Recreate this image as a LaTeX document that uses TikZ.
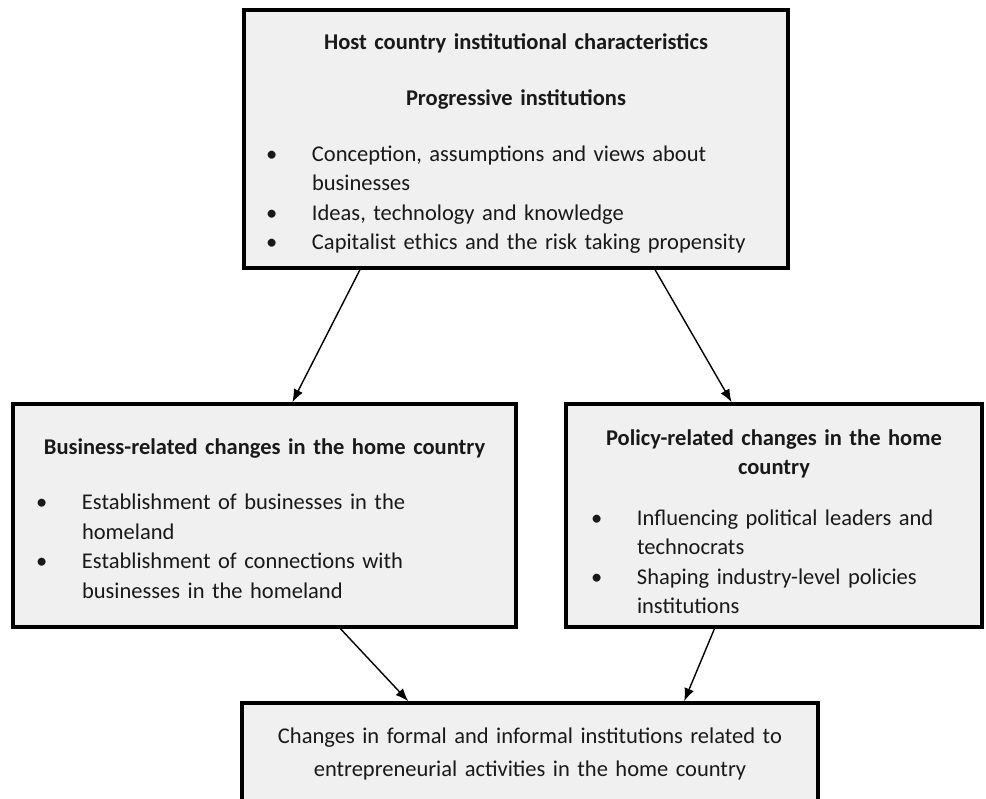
\documentclass[tikz,border=0pt]{standalone}
\usepackage{fontspec}
\setmainfont{Carlito}
\usetikzlibrary{arrows.meta,calc,positioning}
\definecolor{ink}{RGB}{25,25,25}
\definecolor{boxfill}{RGB}{240,240,240}
\tikzset{
  every picture/.style={x=1pt, y=1pt, line cap=round, line join=round,
    >={Latex[length=13pt,width=10pt]}},
  every node/.style={font=\fontsize{22.5}{29.5}\selectfont, text=ink},
  % Kästen
  panel/.style={draw=black, fill=boxfill, line width=3.5pt, line join=miter,
    inner xsep=#1, inner ysep=0pt, align=left},
  panel/.default=22pt,
  % Pfeile
  link/.style={->, line width=1.4pt, black},
}
\newcommand{\topgap}[1]{\par\vspace*{#1}}
\newcommand{\hd}[1]{\par{\noindent\centering\bfseries #1\par}}
\newcommand{\bul}[1]{\par\noindent\hangindent=46pt\hangafter=1\makebox[46pt][l]{\textbullet}#1\par}

\begin{document}
\begin{tikzpicture}
  \useasboundingbox (0,0) rectangle (986,-799);
  % Herkunft: Institutionen im Gastland
  \node[panel=22pt, text width=500pt, minimum height=258pt] (host) at (516,-139) {%
    \topgap{-5pt}
    \hd{Host country institutional characteristics}
    \vspace{26.5pt}
    \hd{Progressive institutions}
    \vspace{26.5pt}
    \bul{Conception, assumptions and views about\newline businesses}
    \bul{Ideas, technology and knowledge}
    \bul{Capitalist ethics and the risk taking propensity}};
  % zwei Kanäle
  \node[panel=23pt, text width=457pt, minimum height=223pt] (biz) at (264.5,-515.5) {%
    \topgap{-7pt}
    \hd{Business-related changes in the home country}
    \vspace{25.5pt}
    \bul{Establishment of businesses in the\newline homeland}
    \bul{Establishment of connections with\newline businesses in the homeland}};
  \node[panel=25pt, text width=366pt, minimum height=223pt] (pol) at (774,-515.5) {%
    \topgap{-1pt}
    \hd{Policy-related changes in the home\\ country}
    \vspace{21pt}
    \bul{Influencing political leaders and\newline technocrats}
    \bul{Shaping industry-level policies\newline institutions}};
  % Ergebnis
  \node[panel=18pt, text width=540pt, minimum height=102pt, align=center] (home) at (530,-754) {%
    Changes in formal and informal institutions related to\\[3pt]
    entrepreneurial activities in the home country};
  % Pfeile
  \draw[link] ($(host.south west)!0.215!(host.south east)$) -- ($(biz.north west)!0.555!(biz.north east)$);
  \draw[link] ($(host.south west)!0.754!(host.south east)$) -- ($(pol.north west)!0.399!(pol.north east)$);
  \draw[link] ($(biz.south west)!0.65!(biz.south east)$) -- ($(home.north west)!0.29!(home.north east)$);
  \draw[link] ($(pol.south west)!0.358!(pol.south east)$) -- ($(home.north west)!0.766!(home.north east)$);
\end{tikzpicture}
\end{document}
